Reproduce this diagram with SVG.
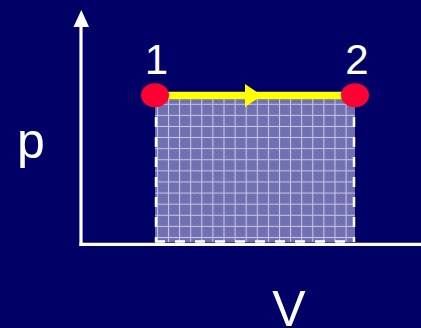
<svg xmlns="http://www.w3.org/2000/svg" width="421" height="328" viewBox="0 0 421 328">
<defs>
<pattern id="grid" patternUnits="userSpaceOnUse" x="1.5" y="3.9" width="11.1" height="11.1">
<rect width="11.1" height="11.1" fill="#7373b3"/>
<path d="M2 2h1v1h-1zM4 4h1v1h-1zM6 2h1v1h-1zM8 4h1v1h-1zM2 6h1v1h-1zM4 8h1v1h-1zM6 6h1v1h-1zM8 8h1v1h-1z" fill="#5e5ea2"/>
<path d="M0.5 0V11.1M0 0.5H11.1" stroke="#c8c8e8" stroke-width="1"/>
</pattern>
</defs>
<style>
.lbl{font-family:"Liberation Sans",Arial,sans-serif;fill:#ffffff;text-anchor:middle}
.dash{stroke:#ffffff;stroke-width:2.5;stroke-dasharray:10 10;fill:none}
</style>
<rect width="421" height="328" fill="#000066"/>
<g id="area">
<rect x="155" y="99" width="200" height="143" fill="url(#grid)"/>
<path class="dash" d="M156 99V242M354 99V242" stroke-dashoffset="2"/>
<path class="dash" d="M155 241.5H355" stroke-dasharray="8 4"/>
</g>
<g id="axes">
<path d="M81 246V26" stroke="#ffffff" stroke-width="3.2" fill="none"/>
<path d="M73.5 27L81.3 10L89 27z" fill="#ffffff"/>
<path d="M79.5 244.3H421" stroke="#ffffff" stroke-width="3.2" fill="none"/>
</g>
<g id="connectors">
<path d="M155 95.5H355" stroke="#ffff00" stroke-width="7.5" fill="none"/>
<path d="M245 84L262 95.5L245 107z" fill="#ffff00"/>
</g>
<g id="node1">
<ellipse cx="155" cy="95.3" rx="14" ry="12" fill="#ff0033"/>
<text class="lbl" x="156.5" y="73.5" font-size="42">1</text>
</g>
<g id="node2">
<ellipse cx="355" cy="95.3" rx="14" ry="12" fill="#ff0033"/>
<text class="lbl" x="357" y="74" font-size="42">2</text>
</g>
<text class="lbl" x="31" y="158" font-size="50">p</text>
<text class="lbl" x="289" y="326" font-size="50">V</text>
</svg>
